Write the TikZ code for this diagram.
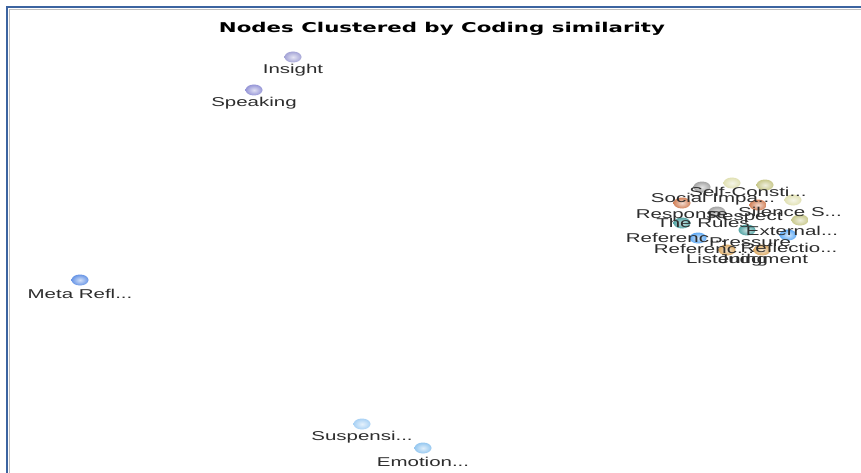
\documentclass[tikz,border=0pt]{standalone}
\usepackage{fontspec}
\setmainfont{Liberation Sans}
\newfontfamily\titlefont{DejaVu Sans}
\usepackage{xcolor}
\usetikzlibrary{shapes.geometric}
\definecolor{FrameBlue}{RGB}{60,100,160}
\definecolor{LabelGrey}{RGB}{45,45,45}
\definecolor{Lavender}{RGB}{165,165,215}
\definecolor{Periwinkle}{RGB}{150,150,215}
\definecolor{MetaBlue}{RGB}{105,150,230}
\definecolor{PaleBlue}{RGB}{170,210,245}
\definecolor{SkyBlue}{RGB}{150,200,240}
\definecolor{Ash}{RGB}{165,165,165}
\definecolor{Cream}{RGB}{225,225,180}
\definecolor{Olive}{RGB}{200,200,140}
\definecolor{Rust}{RGB}{210,130,90}
\definecolor{Teal}{RGB}{85,165,165}
\definecolor{Azure}{RGB}{95,170,245}
\definecolor{Tan}{RGB}{220,170,100}
\tikzset{%
	sphere/.style={ellipse, draw=none, minimum width=17pt, minimum height=11pt,
		inner sep=0pt, shading=radial, inner color=#1!30!white, outer color=#1},
	lbl/.style={inner sep=0pt, text=LabelGrey,
		font=\fontsize{12.8}{14}\selectfont, xscale=1.6},
	heading/.style={inner sep=0pt, text=black,
		font=\titlefont\bfseries\fontsize{13.5}{15}\selectfont, xscale=1.58},
}

\begin{document}
\begin{tikzpicture}[x=1pt,y=-1pt,node distance=13.5pt]

    \useasboundingbox[fill=white] (0,0) rectangle (861,473);
    \draw[black!25, line width=1pt] (9.5,473) -- (9.5,9.5) -- (861,9.5);
    \draw[FrameBlue, line width=2pt] (7,473) -- (7,7) -- (861,7);

    \node [heading] (Title) at (442,29) {Nodes Clustered by Coding similarity};

    % outlying nodes
    \node [sphere=Lavender] (Insight) at (293,57) {};
    \node [lbl] (InsightText) [below of = Insight] {Insight};
    \node [sphere=Periwinkle] (Speaking) at (254,90) {};
    \node [lbl] (SpeakingText) [below of = Speaking] {Speaking};
    \node [sphere=MetaBlue] (MetaRefl) at (80,280) {};
    \node [lbl] (MetaReflText) [below of = MetaRefl] {Meta Refl...};
    \node [sphere=PaleBlue] (Suspensi) at (362,424) {};
    \node [lbl] (SuspensiText) [below of = Suspensi] {Suspensi...};
    \node [sphere=SkyBlue] (Emotion) at (423,448) {};
    \node [lbl] (EmotionText) [below of = Emotion] {Emotion...};

    % the cluster
    \node [sphere=Ash] (Dot01) at (702,187) {};
    \node [sphere=Cream] (Dot02) at (732,183) {};
    \node [sphere=Olive] (Dot03) at (765,185) {};
    \node [sphere=Rust] (Dot04) at (682,203) {};
    \node [sphere=Rust] (Dot05) at (758,205) {};
    \node [sphere=Cream] (Dot06) at (793,200) {};
    \node [sphere=Ash] (Dot07) at (717,212) {};
    \node [sphere=Olive] (Dot08) at (800,220) {};
    \node [sphere=Teal] (Dot09) at (682,223) {};
    \node [sphere=Teal] (Dot10) at (747,230) {};
    \node [sphere=Azure] (Dot11) at (698,238) {};
    \node [sphere=Azure] (Dot12) at (788,235) {};
    \node [sphere=Tan] (Dot13) at (727,250) {};
    \node [sphere=Tan] (Dot14) at (762,250) {};

    \node [lbl] (SelfText) at (748,192) {Self-Consti...};
    \node [lbl] (SocialText) at (713,199) {Social Impa...};
    \node [lbl] (ResponseText) at (682,215) {Response};
    \node [lbl] (RespectText) at (745,217) {Respect};
    \node [lbl] (SilenceText) at (790,212) {Silence S...};
    \node [lbl] (RulesText) at (703,223) {The Rules};
    \node [lbl] (ExternalText) at (792,231) {External...};
    \node [lbl] (ReferencText) at (676,238) {Referenc...};
    \node [lbl] (PressureText) at (750,242) {Pressure};
    \node [lbl] (ReferencTextB) at (704,249) {Referenc...};
    \node [lbl] (ReflectioText) at (789,248) {Reflectio...};
    \node [lbl] (ListeningText) at (727,260) {Listening};
    \node [lbl] (JudgmentText) at (763,260) {Judgment};

\end{tikzpicture}
\end{document}
